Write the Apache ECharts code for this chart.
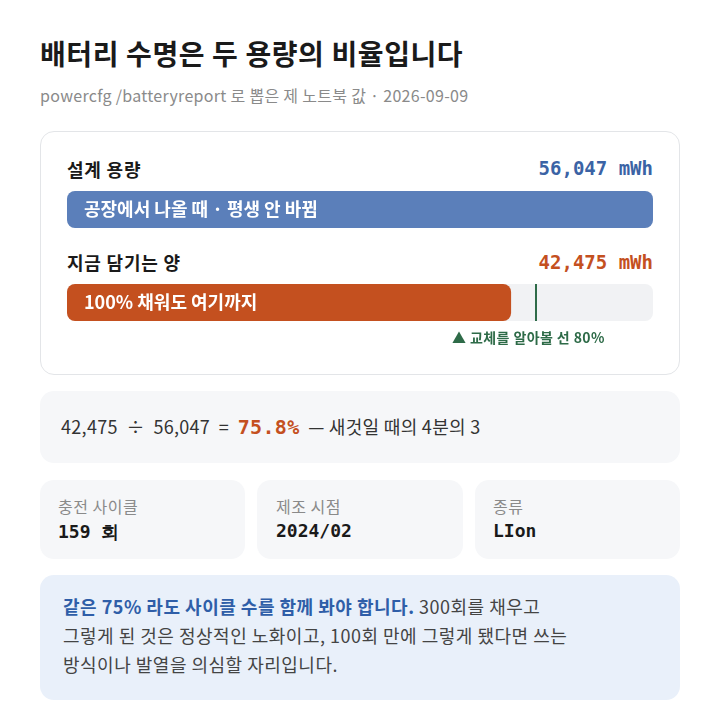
<!DOCTYPE html>
<html><head><meta charset="utf-8">
<script src="https://cdn.jsdelivr.net/npm/echarts@6/dist/echarts.min.js"></script>
<style>
body{margin:0;background:#fff;font-family:"Noto Sans CJK KR","Noto Sans",sans-serif;color:#1a1a1a;}
.wrap{position:relative;width:720px;height:722px;}
.abs{position:absolute;white-space:nowrap;}
h1{position:absolute;left:40px;top:33px;margin:0;font-size:28px;font-weight:700;letter-spacing:0.6px;}
.sub{left:40px;top:83px;font-size:16px;color:#8a8a8a;letter-spacing:0.3px;}
.card{box-sizing:border-box;border-radius:14px;}
.mono{font-family:"DejaVu Sans Mono",monospace;font-weight:700;}
.lbl{font-size:18px;font-weight:700;letter-spacing:0.8px;}
.small{font-size:16px;color:#8a8a8a;letter-spacing:0.5px;}
</style></head>
<body><div class="wrap">
<h1>배터리 수명은 두 용량의 비율입니다</h1>
<div class="abs sub">powercfg /batteryreport 로 뽑은 제 노트북 값 · 2026-09-09</div>
<div class="abs card" style="left:40px;top:131px;width:640px;height:244px;border:1px solid #e3e5e8;"></div>
<div class="abs lbl" style="left:67px;top:156px;">설계 용량</div>
<div class="abs mono" style="right:67px;top:157px;font-size:19px;color:#3b63a5;">56,047 mWh</div>
<div class="abs lbl" style="left:67px;top:249px;">지금 담기는 양</div>
<div class="abs mono" style="right:67px;top:251px;font-size:19px;color:#c4501f;">42,475 mWh</div>
<div id="c" class="abs" style="left:67px;top:150px;width:586px;height:205px;"></div>
<div class="abs" style="left:452px;top:327px;font-size:14px;font-weight:700;color:#2e6b48;letter-spacing:0.4px;">▲ 교체를 알아볼 선 80%</div>

<div class="abs card" style="left:40px;top:391px;width:640px;height:72px;background:#f6f7f9;"></div>
<div class="abs" style="left:61px;top:413px;font-size:18px;color:#333;white-space:pre;letter-spacing:0.3px;">42,475  ÷  56,047  =  <span class="mono" style="color:#c4501f;font-size:20px;">75.8%</span>  — 새것일 때의 4분의 3</div>

<div class="abs card" style="left:40px;top:480px;width:205px;height:79px;background:#f6f7f9;"></div>
<div class="abs card" style="left:257px;top:480px;width:206px;height:79px;background:#f6f7f9;"></div>
<div class="abs card" style="left:475px;top:480px;width:205px;height:79px;background:#f6f7f9;"></div>
<div class="abs small" style="left:58px;top:494px;">충전 사이클</div>
<div class="abs mono" style="left:58px;top:520px;font-size:18px;">159 회</div>
<div class="abs small" style="left:276px;top:494px;">제조 시점</div>
<div class="abs mono" style="left:276px;top:520px;font-size:18px;">2024/02</div>
<div class="abs small" style="left:493px;top:494px;">종류</div>
<div class="abs mono" style="left:493px;top:520px;font-size:18px;">LIon</div>

<div class="abs card" style="left:40px;top:575px;width:640px;height:125px;background:#e9f0fa;"></div>
<div class="abs" style="left:63px;top:592px;font-size:18px;line-height:29px;color:#444;letter-spacing:0.5px;"><b style="color:#2f5ea8;">같은 75% 라도 사이클 수를 함께 봐야 합니다.</b> 300회를 채우고<br>그렇게 된 것은 정상적인 노화이고, 100회 만에 그렇게 됐다면 쓰는<br>방식이나 발열을 의심할 자리입니다.</div>
</div>
<script>
const categories = ['설계 용량', '지금 담기는 양'];
const values = [56047, 42475];
const barTexts = ['공장에서 나올 때 · 평생 안 바뀜', '100% 채워도 여기까지'];
const barColors = ['#5b7fba', '#c4501f'];
const replaceRatio = 0.8;

const chart = echarts.init(document.getElementById('c'));
chart.setOption({
  animation: false,
  grid: { left: 0, right: 0, top: 13, height: 186 },
  xAxis: { type: 'value', min: 0, max: values[0], show: false },
  yAxis: { type: 'category', data: categories, inverse: true, show: false },
  series: [{
    type: 'bar',
    barWidth: 37,
    showBackground: true,
    backgroundStyle: { color: '#f1f2f4', borderRadius: 8 },
    data: values.map((v, i) => ({
      value: v,
      itemStyle: { color: barColors[i], borderRadius: 8 },
      label: { formatter: barTexts[i] }
    })),
    label: {
      show: true, position: 'insideLeft', distance: 17,
      color: '#fff', fontSize: 18, fontWeight: 'bold',
      fontFamily: 'Noto Sans CJK KR'
    },
    markLine: {
      silent: true, symbol: 'none', label: { show: false },
      lineStyle: { color: '#2e6b48', width: 2, type: 'solid' },
      data: [[{ xAxis: values[0] * replaceRatio, y: 134 }, { xAxis: values[0] * replaceRatio, y: 171 }]]
    }
  }]
});
</script>
</body></html>
